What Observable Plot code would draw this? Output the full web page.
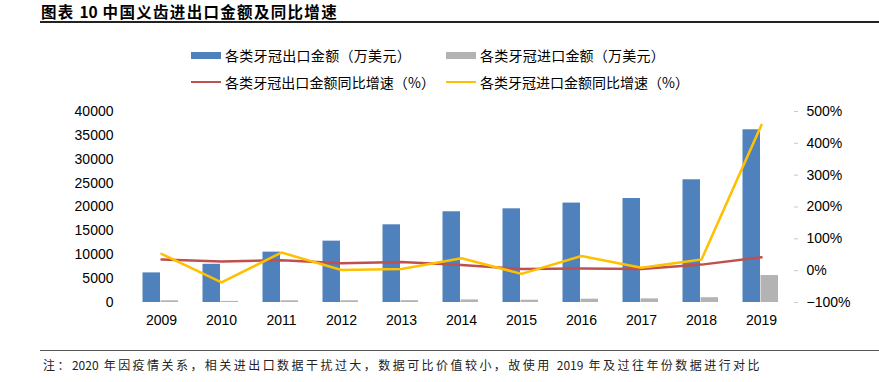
<!DOCTYPE html>
<html>
<head>
<meta charset="utf-8">
<script src="https://cdn.jsdelivr.net/npm/d3@7"></script>
<script src="https://cdn.jsdelivr.net/npm/@observablehq/plot@0.6"></script>
<style>
  body { margin: 0; background: #fff; }
  #wrap { position: relative; width: 879px; height: 382px; overflow: hidden; background: #fff;
          font-family: "Noto Sans CJK SC", "Noto Sans", sans-serif; color: #000; }
  #wrap svg { position: absolute; left: 0; top: 0; }
  .title { position: absolute; left: 41px; top: 1px; font-size: 15.5px; font-weight: bold; line-height: 20px; white-space: nowrap; }
  .tline { position: absolute; left: 40px; right: 0; top: 21px; height: 1.5px; background: #222; }
  .fline { position: absolute; left: 40px; right: 0; top: 349.5px; height: 1px; background: #555; }
  .note { position: absolute; left: 43px; top: 355.5px; font-size: 12px; line-height: 18px; white-space: nowrap; color: #222; }
  .leg { position: absolute; font-size: 14px; line-height: 18px; white-space: nowrap; display: flex; align-items: center; }
  .sw { display: inline-block; width: 30px; margin-right: 4px; flex: none; }
</style>
</head>
<body>
<div id="wrap"></div>
<script>
// ---- data ----
const years = ["2009", "2010", "2011", "2012", "2013", "2014", "2015", "2016", "2017", "2018", "2019"];
const exportValue = [6200, 8000, 10550, 12850, 16270, 19000, 19620, 20820, 21780, 25700, 36170];   // 万美元
const importValue = [360, 230, 360, 365, 385, 535, 480, 700, 760, 1000, 5650];                      // 万美元
const exportGrowth = [35, 29, 33, 23, 27, 18, 5, 7, 5, 19, 42];                                   // %
const importGrowth = [53, -37, 57, 2, 5, 39, -10, 46, 9, 35, 458];                                // %
const leftTicks = [0, 5000, 10000, 15000, 20000, 25000, 30000, 35000, 40000];
const rightTicks = [-100, 0, 100, 200, 300, 400, 500];

const seriesNames = ["各类牙冠出口金额（万美元）", "各类牙冠进口金额（万美元）", "各类牙冠出口金额同比增速（%）", "各类牙冠进口金额同比增速（%）"];
const colors = ["#4f81bd", "#b3b3b3", "#c0504d", "#ffc000"];
const titleText = "图表 10 中国义齿进出口金额及同比增速";
const noteText = "注：2020 年因疫情关系，相关进出口数据干扰过大，数据可比价值较小，故使用 2019 年及过往年份数据进行对比";

// map right-axis percentages onto the left-axis domain
const leftMax = 40000, pctMin = -100, pctMax = 500;
const k = leftMax / (pctMax - pctMin);
const toLeft = p => (p - pctMin) * k;
const fromLeft = v => v / k + pctMin;

const rows = years.map((y, i) => ({
  year: y, exp: exportValue[i], imp: importValue[i], eg: exportGrowth[i], ig: importGrowth[i]
}));

const chart = Plot.plot({
  width: 879,
  height: 382,
  marginLeft: 128,
  marginRight: 86,
  marginTop: 111,
  marginBottom: 80,
  style: { fontFamily: "'Liberation Sans', Arial, sans-serif", fontSize: "14px", color: "#000", background: "transparent" },
  x: { type: "band", domain: years, padding: 0 },
  y: { domain: [0, leftMax] },
  marks: [
    Plot.barY(rows, { x: "year", y: "exp", fill: colors[0], insetLeft: 11.5, insetRight: 31 }),
    Plot.barY(rows, { x: "year", y: "imp", fill: colors[1], insetLeft: 29.5, insetRight: 13 }),
    Plot.axisX({ tickSize: 0, tickPadding: 13, fontSize: 14, line: true, stroke: "#c8c8c8", color: "#000", label: null }),
    Plot.axisY(leftTicks, { anchor: "left", tickSize: 0, tickPadding: 15, fontSize: 14, line: true, stroke: "#c8c8c8", color: "#000", label: null, tickFormat: d => String(d) }),
    Plot.axisY(rightTicks.map(toLeft), { anchor: "right", tickSize: 4, tickPadding: 9, fontSize: 14, line: true, stroke: "#c8c8c8", color: "#000", label: null,
      tickFormat: v => { const p = Math.round(fromLeft(v)); return (p < 0 ? "\u2212" + (-p) : p) + "%"; } }),
    Plot.line(rows, { x: "year", y: d => toLeft(d.eg), stroke: colors[2], strokeWidth: 2.5 }),
    Plot.line(rows, { x: "year", y: d => toLeft(d.ig), stroke: colors[3], strokeWidth: 2.5 })
  ]
});

const wrap = document.getElementById("wrap");
wrap.appendChild(chart);

function addDiv(cls, text, css) {
  const d = document.createElement("div");
  d.className = cls;
  if (text) d.textContent = text;
  if (css) Object.assign(d.style, css);
  wrap.appendChild(d);
  return d;
}

// spread CJK text so that it spans the width seen in the reference;
// runs of digits keep their natural spacing
function fitText(el, text, target) {
  el.textContent = "";
  const spans = [];
  text.split(/(\d+)/).forEach(part => {
    if (!part) return;
    const s = document.createElement("span");
    s.textContent = part;
    s.dataset.digits = /^\d+$/.test(part) ? "1" : "0";
    el.appendChild(s);
    spans.push(s);
  });
  const w = el.getBoundingClientRect().width;
  const n = spans.filter(s => s.dataset.digits === "0").reduce((a, s) => a + [...s.textContent].length, 0);
  const ls = (target - w) / Math.max(1, n);
  spans.forEach(s => { if (s.dataset.digits === "0") s.style.letterSpacing = ls + "px"; });
}

const title = addDiv("title");
fitText(title, titleText, 297);
addDiv("tline");
addDiv("fline");
const note = addDiv("note");
fitText(note, noteText, 719);

// legend
const legendPos = [
  { left: "191px", top: "46px", kind: "rect", w: 186 },
  { left: "446px", top: "46px", kind: "rect", w: 185 },
  { left: "191px", top: "73px", kind: "line", w: 210 },
  { left: "446px", top: "73px", kind: "line", w: 209 }
];
seriesNames.forEach((name, i) => {
  const item = addDiv("leg", null, { left: legendPos[i].left, top: legendPos[i].top });
  const sw = document.createElement("span");
  sw.className = "sw";
  sw.style.background = colors[i];
  sw.style.height = legendPos[i].kind === "rect" ? "7px" : "2.5px";
  item.appendChild(sw);
  const t = document.createElement("span");
  t.style.whiteSpace = "nowrap";
  item.appendChild(t);
  fitText(t, name, legendPos[i].w);
});
</script>
</body>
</html>
